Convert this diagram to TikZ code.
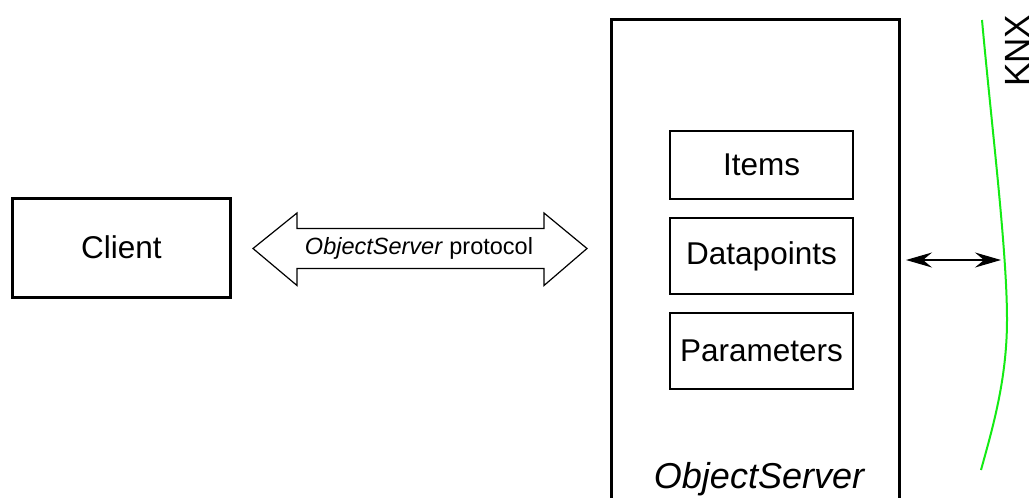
\documentclass[tikz,border=0pt]{standalone}
\usepackage{fontspec}
\setmainfont{Liberation Sans}
\usetikzlibrary{arrows.meta}
\definecolor{knxgreen}{RGB}{20,235,20}
\begin{document}
\begin{tikzpicture}[x=1pt,y=-1pt,
  bigbox/.style={draw,line width=3pt,rectangle,inner sep=0pt},
  smallbox/.style={draw,line width=1.3pt,rectangle,inner sep=0pt,minimum width=183pt,font=\fontsize{31.5}{36}\selectfont},
  bigtxt/.style={font=\fontsize{31.5}{36}\selectfont},
  itxt/.style={font=\fontsize{36}{42}\selectfont\itshape},
  lbl/.style={font=\fontsize{23.5}{28}\selectfont}]
\useasboundingbox (0,0) rectangle (1034,498);
\clip (0,0) rectangle (1034,498);
% Client
\node[bigbox,minimum width=218pt,minimum height=99pt,bigtxt] (client) at (121.5,247.5) {Client};
% ObjectServer
\node[bigbox,minimum width=288pt,minimum height=491pt] (server) at (755.5,265) {};
\node[itxt,anchor=base] (srvlabel) at (759,488) {ObjectServer};
\node[smallbox,minimum height=68pt] (items) at (761.5,165) {Items};
\node[smallbox,minimum height=76pt] (dp) at (761.5,256) {Datapoints};
\node[smallbox,minimum height=76pt] (par) at (761.5,351) {Parameters};
% protocol double arrow
\draw[line width=1.2pt,line join=miter] (253,248.5) -- (297,213) -- (297,228.5) -- (544,228.5) -- (544,213) -- (587,248.5) -- (544,285.5) -- (544,268.5) -- (297,268.5) -- (297,285.5) -- cycle;
\node[lbl] (proto) at (419,248) {\textit{ObjectServer} protocol};
% KNX bus
\draw[knxgreen,line width=2pt] (982,20) .. controls (992,130) and (1007,250) .. (1007,320) .. controls (1007,380) and (992,430) .. (981,470);
\node[font=\fontsize{35}{42}\selectfont,rotate=90,inner sep=0pt] (knx) at (1017,51) {KNX};
\coordinate (srvport) at (906,260);
\coordinate (busport) at (1001,260);
\draw[line width=1.2pt,{Stealth[length=26pt,width=15pt,inset=9pt]}-{Stealth[length=26pt,width=15pt,inset=9pt]}] (srvport) -- (busport);
\end{tikzpicture}
\end{document}
